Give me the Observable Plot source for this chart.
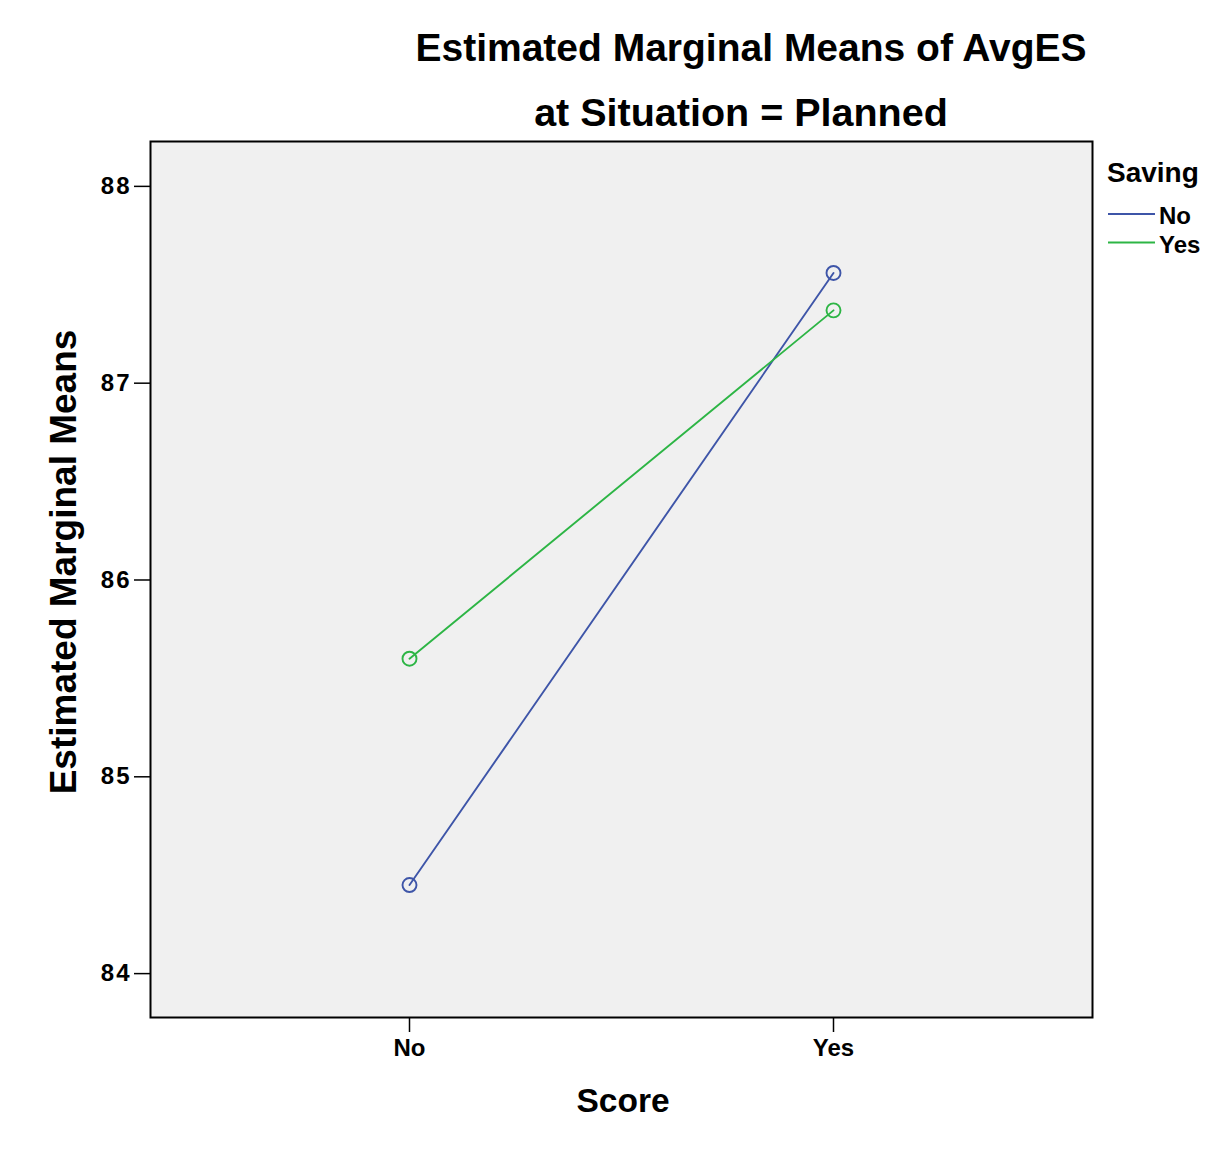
<!DOCTYPE html>
<html>
<head>
<meta charset="utf-8">
<script src="https://cdn.jsdelivr.net/npm/d3@7"></script>
<script src="https://cdn.jsdelivr.net/npm/@observablehq/plot@0.6"></script>
<style>
  html, body { margin: 0; padding: 0; background: #fff; }
  #chart { position: relative; width: 1230px; height: 1164px; }
  svg { font-family: "Liberation Sans", Arial, Helvetica, sans-serif; }
</style>
</head>
<body>
<div id="chart"></div>
<script>
// ---- data ----
const scoreLevels = ["No", "Yes"];
const savingLevels = ["No", "Yes"];
const savingNo = [84.45, 87.56];
const savingYes = [85.60, 87.37];
const yTicks = [84, 85, 86, 87, 88];
const titleLines = ["Estimated Marginal Means of AvgES", "at Situation = Planned"];
const xLabel = "Score";
const yLabel = "Estimated Marginal Means";
const legendTitle = "Saving";
const seriesColors = ["#3e55a8", "#2db545"];

const rows = [];
scoreLevels.forEach((s, i) => {
  rows.push({score: s, saving: savingLevels[0], value: savingNo[i]});
  rows.push({score: s, saving: savingLevels[1], value: savingYes[i]});
});

const font = '"Liberation Sans", Arial, Helvetica, sans-serif';

const chart = Plot.plot({
  width: 1230,
  height: 1164,
  marginLeft: 150,
  marginRight: 138,
  marginTop: 141,
  marginBottom: 147,
  style: {fontFamily: font, background: "white", overflow: "visible"},
  x: {type: "point", domain: scoreLevels, padding: 0.61, label: null},
  y: {domain: [83.777, 88.228], label: null},
  color: {domain: savingLevels, range: seriesColors},
  marks: [
    Plot.frame({fill: "#f0f0f0"}),
    Plot.axisY({ticks: yTicks, tickSize: 16, tickPadding: 3, tickFormat: d => String(d),
      fontSize: 24, fontWeight: "bold", stroke: "black", strokeWidth: 1.5, fill: "black"}),
    Plot.axisX({tickSize: 15, tickPadding: 6, fontSize: 24, fontWeight: "bold",
      strokeWidth: 1.5, fill: "black"}),
    Plot.line(rows, {x: "score", y: "value", z: "saving", stroke: "saving", strokeWidth: 1.9}),
    Plot.dot(rows, {x: "score", y: "value", stroke: "saving", r: 7, strokeWidth: 1.9}),
    Plot.frame({stroke: "black", strokeWidth: 2})
  ]
});

document.getElementById("chart").appendChild(chart);

const svg = d3.select(chart);
// letter spacing of y tick labels
svg.selectAll('[aria-label="y-axis tick label"] text').attr("letter-spacing", "2px");

const addText = (x, y, size, str, anchor) => svg.append("text")
  .attr("x", x).attr("y", y).attr("text-anchor", anchor || "middle")
  .attr("font-size", size).attr("font-weight", "bold").attr("fill", "black")
  .attr("font-family", font).text(str);

// titles
addText(751, 61, 39, titleLines[0]);
addText(741, 126, 39.5, titleLines[1]);

// axis labels
addText(623, 1112, 33.5, xLabel);
addText(0, 0, 37, yLabel).attr("x", null).attr("y", null)
  .attr("transform", "translate(76,562) rotate(-90)");

// legend
addText(1107, 182, 28, legendTitle, "start");
savingLevels.forEach((s, i) => {
  const y = 214 + i * 28.5;
  svg.append("line").attr("x1", 1108).attr("x2", 1155).attr("y1", y).attr("y2", y)
    .attr("stroke", seriesColors[i]).attr("stroke-width", 1.8);
  addText(1159, y + 10, 24, s, "start");
});
</script>
</body>
</html>
